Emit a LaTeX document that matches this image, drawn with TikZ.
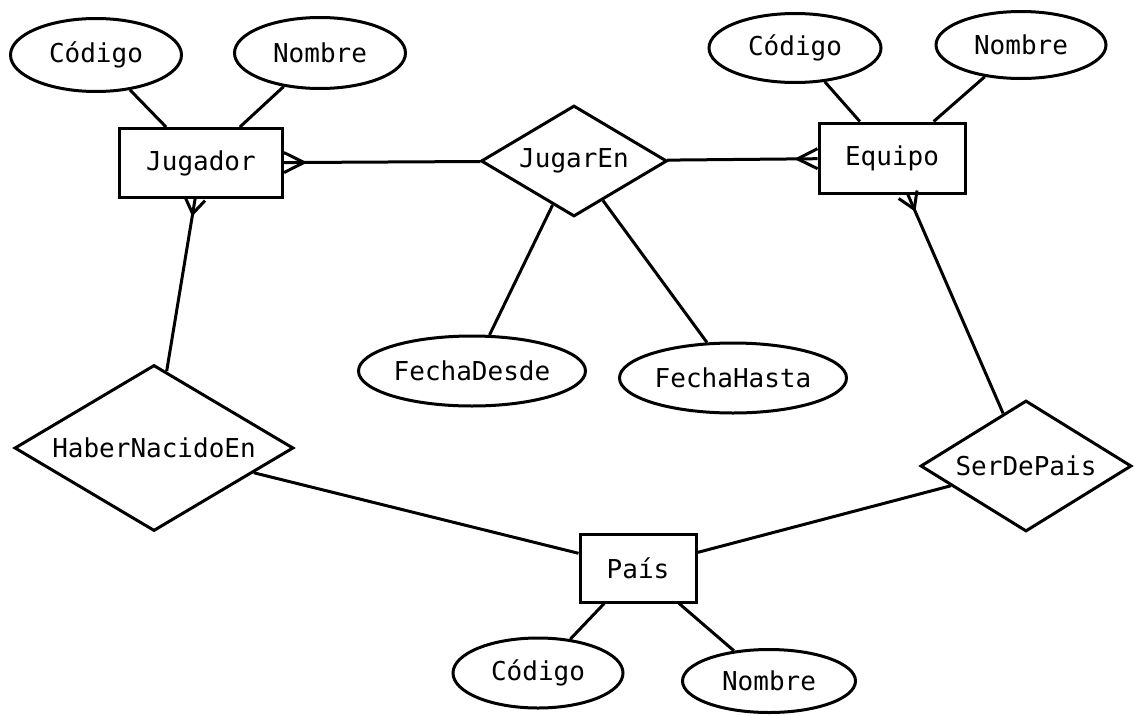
\documentclass[tikz,border=0pt]{standalone}
\usepackage{fontspec}
\setmonofont{DejaVu Sans Mono}
\usetikzlibrary{shapes.geometric,calc}

\tikzset{
    entidad/.style={draw, rectangle, line width=3pt, inner sep=0pt},
    atributo/.style={draw, ellipse, line width=3pt, inner sep=0pt},
    relacion/.style={draw, diamond, aspect=1.65, line width=3pt, inner sep=0pt},
    linea/.style={line width=3pt, line join=round}
}

\begin{document}
\begin{tikzpicture}[x=1pt, y=-1pt, font=\ttfamily\fontsize{26}{30}\selectfont]
                    \fill[white] (0,0) rectangle (1134,715);
                    \useasboundingbox (0,0) rectangle (1134,715);

                    % entidades
                    \node[entidad, minimum width=163pt, minimum height=69pt] (jugador) at (201,163) {Jugador};
                    \node[entidad, minimum width=146pt, minimum height=70pt] (equipo) at (892,158) {Equipo};
                    \node[entidad, minimum width=116pt, minimum height=68pt] (pais) at (638,568) {País};

                    % relaciones
                    \node[relacion, minimum width=186pt, minimum height=111pt] (jugarEn) at (574,161) {JugarEn};
                    \node[relacion, minimum width=279pt, minimum height=166pt] (haber) at (154,448) {HaberNacidoEn};
                    \node[relacion, minimum width=211pt, minimum height=131pt] (serDe) at (1026,466) {SerDePais};

                    % atributos
                    \node[atributo, minimum width=171pt, minimum height=73pt] (codJug) at (96,55) {Código};
                    \node[atributo, minimum width=171pt, minimum height=71pt] (nomJug) at (320,53) {Nombre};
                    \node[atributo, minimum width=172pt, minimum height=69pt] (codEq) at (795,48) {Código};
                    \node[atributo, minimum width=170pt, minimum height=67pt] (nomEq) at (1021,45) {Nombre};
                    \node[atributo, minimum width=227pt, minimum height=70pt] (fDesde) at (472,371) {FechaDesde};
                    \node[atributo, minimum width=227pt, minimum height=70pt] (fHasta) at (733,378) {FechaHasta};
                    \node[atributo, minimum width=170pt, minimum height=70pt] (codPais) at (538,673) {Código};
                    \node[atributo, minimum width=173pt, minimum height=63pt] (nomPais) at (769,681) {Nombre};

                    \draw[linea] (codJug) -- (jugador);
                    \draw[linea] (nomJug) -- (jugador);
                    \draw[linea] (codEq) -- (equipo);
                    \draw[linea] (nomEq) -- (equipo);
                    \draw[linea] (codPais) -- (pais);
                    \draw[linea] (nomPais) -- (pais);
                    \draw[linea] (jugarEn) -- (fDesde);
                    \draw[linea] (jugarEn) -- (fHasta);
                    \draw[linea] (haber) -- (pais);
                    \draw[linea] (serDe) -- (pais);

                    \draw[linea] (jugador) -- coordinate[pos=0] (pJugE) (jugarEn);
                    \draw[linea] (equipo) -- coordinate[pos=0] (pEqW) (jugarEn);
                    \draw[linea] (jugador) -- coordinate[pos=0] (pJugS) (haber);
                    \draw[linea] (equipo) -- coordinate[pos=0] (pEqS) (serDe);

                    % pies de gallo
                    \draw[linea] ($(pJugE)!10pt!90:(jugarEn)$) -- ($(pJugE)!20pt!(jugarEn)$) -- ($(pJugE)!10pt!-90:(jugarEn)$);
                    \draw[linea] ($(pEqW)!10pt!90:(jugarEn)$) -- ($(pEqW)!20pt!(jugarEn)$) -- ($(pEqW)!10pt!-90:(jugarEn)$);
                    \draw[linea] ($(pJugS)!10pt!90:(haber)$) -- ($(pJugS)!15pt!(haber)$) -- ($(pJugS)!10pt!-90:(haber)$);
                    \draw[linea] ($(pEqS)!10pt!90:(serDe)$) -- ($(pEqS)!16pt!(serDe)$) -- ($(pEqS)!10pt!-90:(serDe)$);
                \end{tikzpicture}
\end{document}
